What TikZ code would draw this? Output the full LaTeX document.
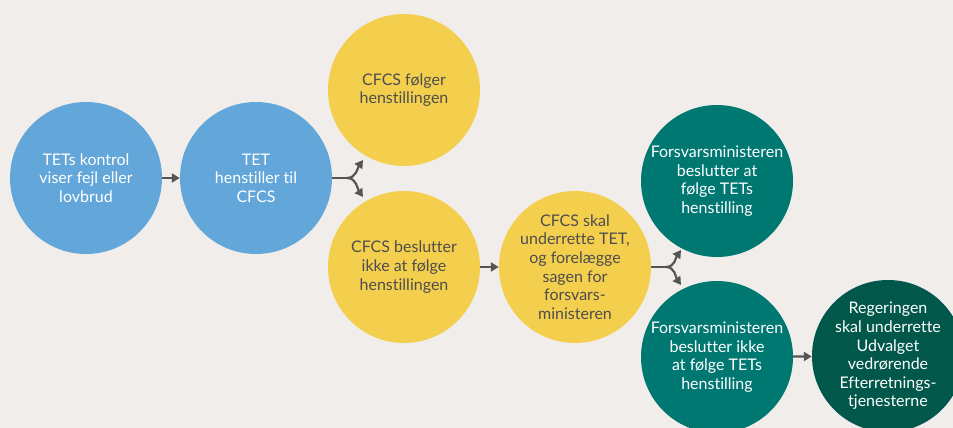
\documentclass[tikz,border=0pt]{standalone}
\usepackage{fontspec}
\setmainfont{Lato}[Ligatures={NoCommon,NoRare,NoContextual}]
\usetikzlibrary{arrows.meta}
\definecolor{bg}{HTML}{F0EDEA}
\definecolor{cblue}{HTML}{62A6DA}
\definecolor{cyellow}{HTML}{F4CF4D}
\definecolor{cteal}{HTML}{007872}
\definecolor{cdark}{HTML}{01584A}
\definecolor{cline}{HTML}{555555}
\definecolor{ctext}{HTML}{4D4D4D}
\tikzset{
  bubble/.style={circle, minimum size=152pt, inner sep=0pt, align=center,
    font=\fontsize{16}{18.6}\selectfont},
  blue/.style={bubble, fill=cblue, text=white},
  yellow/.style={bubble, fill=cyellow, text=ctext},
  teal/.style={bubble, fill=cteal, text=white},
  dark/.style={bubble, fill=cdark, text=white},
  conn/.style={draw=cline, line width=2.2pt, -{Triangle[length=8pt,width=9pt]}},
  stem/.style={draw=cline, line width=2.2pt},
}
\begin{document}
\begin{tikzpicture}[x=1pt,y=-1pt]
\fill[bg] (0,0) rectangle (953,428);
\useasboundingbox (0,0) rectangle (953,428);
\begin{scope}
\clip (0,0) rectangle (953,428);
\node[blue] (c1) at (86,178) {TETs kontrol\\viser fejl eller\\lovbrud};
\node[blue] (c2) at (256,178) {TET\\henstiller til\\CFCS};
\node[yellow] (c3) at (404,90) {CFCS følger\\henstillingen};
\node[yellow] (c4) at (404,267) {CFCS beslutter\\ikke at følge\\henstillingen};
\node[yellow] (c5) at (575,267) {CFCS skal\\underrette TET,\\og forelægge\\sagen for\\forsvars-\\ministeren};
\node[teal] (c6) at (717,181) {Forsvarsministeren\\beslutter at\\følge TETs\\henstilling};
\node[teal] (c7) at (717,357) {Forsvarsministeren\\beslutter ikke\\at følge TETs\\henstilling};
\node[dark] (c8) at (888,356) {Regeringen\\skal underrette\\Udvalget\\vedrørende\\Efterretnings-\\tjenesterne};

\draw[conn] (c1) -- (c2);
\draw[conn] (c4) -- (c5);
\draw[conn] (c7) -- (c8);

\coordinate (f1) at (347,178);
\coordinate (t1) at (363,160);
\coordinate (t2) at (363,197);
\draw[stem] (c2.east) -- (f1);
\draw[conn] (f1) to[out=0,in=-125] (t1);
\draw[conn] (f1) to[out=0,in=125] (t2);

\coordinate (f2) at (666,267);
\coordinate (t3) at (681,250);
\coordinate (t4) at (681,285);
\draw[stem] (c5.east) -- (f2);
\draw[conn] (f2) to[out=0,in=-125] (t3);
\draw[conn] (f2) to[out=0,in=125] (t4);
\end{scope}
\end{tikzpicture}
\end{document}
